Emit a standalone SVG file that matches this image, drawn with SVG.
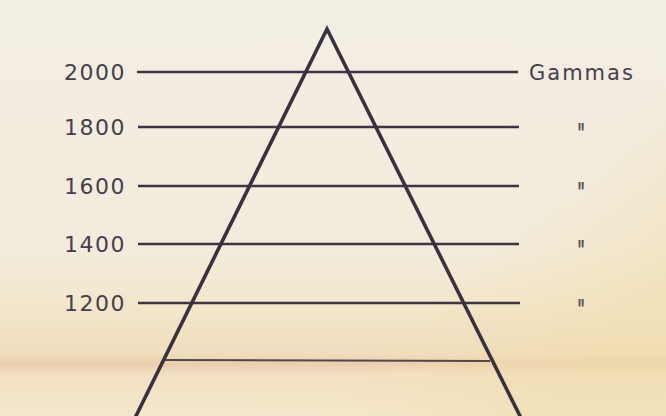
<svg xmlns="http://www.w3.org/2000/svg" width="666" height="416" viewBox="0 0 666 416">
  <defs>
    <linearGradient id="bg" x1="0" y1="0" x2="0" y2="1">
      <stop offset="0" stop-color="#f3eee4"/>
      <stop offset="0.6" stop-color="#f3ecdc"/>
      <stop offset="0.74" stop-color="#f3e6cb"/>
      <stop offset="0.85" stop-color="#f0ddbd"/>
      <stop offset="0.875" stop-color="#eacfae"/>
      <stop offset="0.9" stop-color="#f2e0c2"/>
      <stop offset="1" stop-color="#f5e8cc"/>
    </linearGradient>
    <linearGradient id="tint" x1="0.4" y1="0.3" x2="1" y2="0.7">
      <stop offset="0" stop-color="#f3dfb0" stop-opacity="0"/>
      <stop offset="0.6" stop-color="#f3dfb0" stop-opacity="0"/>
      <stop offset="1" stop-color="#f0dcab" stop-opacity="0.55"/>
    </linearGradient>
    <style>
      .grid { stroke: #3e3540; stroke-width: 2.6; stroke-linecap: butt; fill: none; }
      .leg { stroke: #3a3140; stroke-width: 3.6; stroke-linecap: round; stroke-linejoin: miter; fill: none; }
      .base { stroke: #54464a; stroke-width: 2; fill: none; }
      .num { font-family: "DejaVu Sans", "Liberation Sans", sans-serif; font-size: 22px; fill: #46404a; letter-spacing: 1.5px; text-anchor: end; }
      .unit { font-family: "DejaVu Sans", "Liberation Sans", sans-serif; font-size: 21px; fill: #46404a; letter-spacing: 2px; }
      .ditto { font-family: "Liberation Sans", "DejaVu Sans", sans-serif; font-size: 30px; font-weight: bold; fill: #5a5258; text-anchor: middle; }
    </style>
  </defs>
  <rect x="0" y="0" width="666" height="416" fill="url(#bg)"/>
  <rect x="0" y="0" width="666" height="416" fill="url(#tint)"/>

  <g id="connectors">
    <g id="level-2000"><line class="grid" x1="137" y1="72" x2="518" y2="72"/></g>
    <g id="level-1800"><line class="grid" x1="138" y1="127" x2="519" y2="127"/></g>
    <g id="level-1600"><line class="grid" x1="138" y1="186" x2="519" y2="186"/></g>
    <g id="level-1400"><line class="grid" x1="138" y1="244" x2="519" y2="244"/></g>
    <g id="level-1200"><line class="grid" x1="138" y1="303" x2="520" y2="303"/></g>
    <g id="base-line"><line class="base" x1="165" y1="360" x2="490" y2="361"/></g>
  </g>

  <g id="pyramid">
    <polyline class="leg" points="135,418 327,29 521,418"/>
  </g>

  <g id="labels-left">
    <text class="num" x="126" y="80">2000</text>
    <text class="num" x="126" y="135">1800</text>
    <text class="num" x="126" y="194">1600</text>
    <text class="num" x="126" y="252">1400</text>
    <text class="num" x="126" y="311">1200</text>
  </g>

  <g id="labels-right">
    <text class="unit" x="529" y="80">Gammas</text>
    <text class="ditto" transform="translate(581,143) scale(0.5,1)">"</text>
    <text class="ditto" transform="translate(581,202) scale(0.5,1)">"</text>
    <text class="ditto" transform="translate(581,260) scale(0.5,1)">"</text>
    <text class="ditto" transform="translate(581,319) scale(0.5,1)">"</text>
  </g>
</svg>
